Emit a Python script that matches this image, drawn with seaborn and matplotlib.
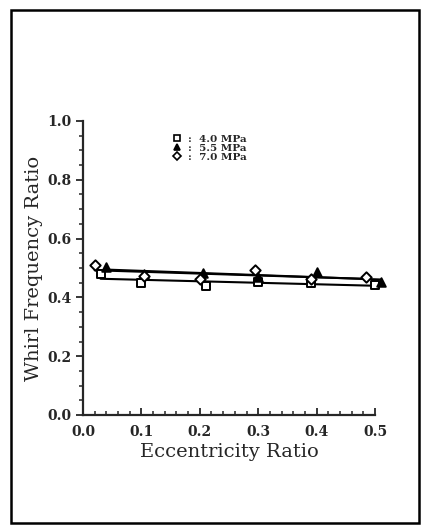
import matplotlib
matplotlib.use("Agg")
import matplotlib.pyplot as plt
from matplotlib.patches import Rectangle
from matplotlib.ticker import MultipleLocator
import seaborn as sns
import pandas as pd

# ── Data ──────────────────────────────────────────────────────────────────
series_labels = [":  4.0 MPa", ":  5.5 MPa", ":  7.0 MPa"]
markers       = ["s", "^", "D"]
face_colors   = ["white", "black", "white"]

ecc_40  = [0.030, 0.100, 0.210, 0.300, 0.390, 0.500]
whirl_40 = [0.480, 0.448, 0.440, 0.453, 0.449, 0.442]

ecc_55  = [0.040, 0.105, 0.205, 0.300, 0.400, 0.510]
whirl_55 = [0.503, 0.480, 0.482, 0.468, 0.487, 0.453]

ecc_70  = [0.020, 0.105, 0.200, 0.295, 0.390, 0.485]
whirl_70 = [0.510, 0.472, 0.463, 0.492, 0.462, 0.468]

x_ticks = [0.0, 0.1, 0.2, 0.3, 0.4, 0.5]
y_ticks = [0.0, 0.2, 0.4, 0.6, 0.8, 1.0]

frames = [pd.DataFrame({"ecc": x, "whirl": y})
          for x, y in [(ecc_40, whirl_40), (ecc_55, whirl_55), (ecc_70, whirl_70)]]

# ── Figure ────────────────────────────────────────────────────────────────
sns.set_style("ticks")
plt.rcParams["font.family"] = ["DejaVu Serif"]

fig = plt.figure(figsize=(4.24, 5.25), dpi=100)
ax = fig.add_axes([83 / 424, 1 - 415 / 525, 292 / 424, 294 / 525])

# fitted lines
for df in frames:
    sns.regplot(data=df, x="ecc", y="whirl", ax=ax, scatter=False, ci=None,
                truncate=True, color="black",
                line_kws={"lw": 1.5, "clip_on": False})

# data points
handles = []
for df, m, fc, lab in zip(frames, markers, face_colors, series_labels):
    sns.scatterplot(data=df, x="ecc", y="whirl", ax=ax, marker=m,
                    s=38 if m != "D" else 28, color=fc, edgecolor="black",
                    linewidth=1.4, clip_on=False, zorder=5)
    handles.append(plt.Line2D([], [], ls="", marker=m, ms=5 if m != "D" else 4.2,
                              mfc=fc, mec="black", mew=1.2, label=lab))

ax.set_xlim(0, 0.5)
ax.set_ylim(0, 1.0)
ax.set_xticks(x_ticks)
ax.set_yticks(y_ticks)
ax.set_xticklabels([f"{t:.1f}" for t in x_ticks], fontweight="bold", fontsize=10)
ax.set_yticklabels([f"{t:.1f}" for t in y_ticks], fontweight="bold", fontsize=10)
ax.xaxis.set_minor_locator(MultipleLocator(0.02))
ax.yaxis.set_minor_locator(MultipleLocator(0.05))
ax.tick_params(axis="x", which="major", direction="in", length=5, width=1.3, pad=7)
ax.tick_params(axis="x", which="minor", direction="in", length=3, width=1.1)
ax.tick_params(axis="y", which="major", direction="out", length=5, width=1.3, pad=3)
ax.tick_params(axis="y", which="minor", direction="out", length=3, width=1.1)

sns.despine(ax=ax)
for s in ["left", "bottom"]:
    ax.spines[s].set_linewidth(1.6)

ax.set_xlabel("Eccentricity Ratio", fontsize=14, labelpad=3)
ax.set_ylabel("Whirl Frequency Ratio", fontsize=14, labelpad=3)

ax.legend(handles=handles, loc="upper left", bbox_to_anchor=(168 / 424, 1 - 129 / 525),
          bbox_transform=fig.transFigure, frameon=False, handlelength=0.8,
          handletextpad=0.6, labelspacing=-0.02, borderpad=0,
          prop={"weight": "bold", "size": 7.5, "family": "DejaVu Serif"})

# outer frame of the scanned figure
fig.add_artist(Rectangle((11 / 424, 2 / 525), 408 / 424, 513 / 525,
                         transform=fig.transFigure, fill=False,
                         edgecolor="black", lw=1.8))

fig.savefig("out.png", dpi=100)
